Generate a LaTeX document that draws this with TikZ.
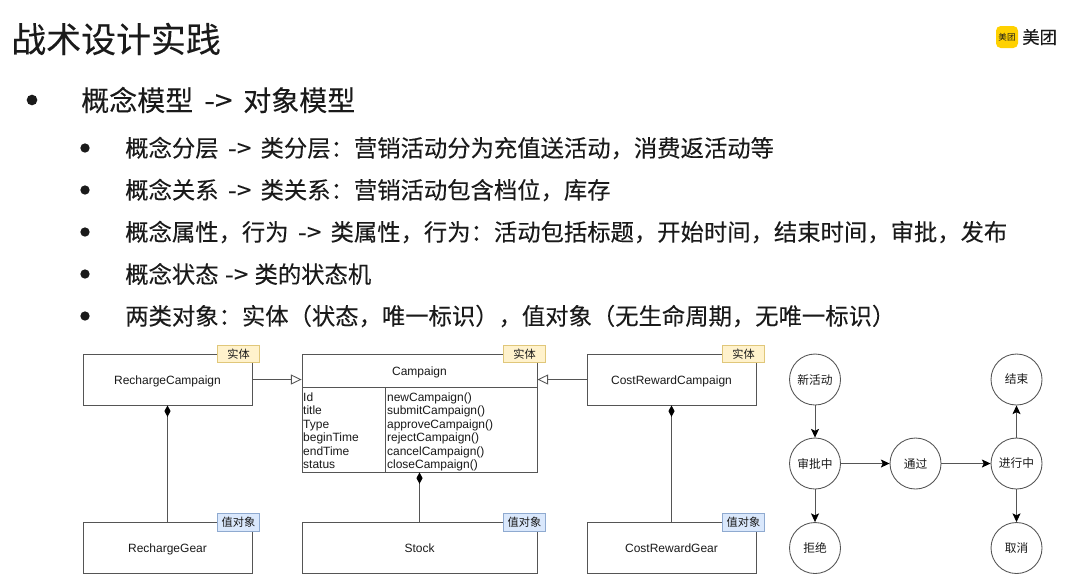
\documentclass[tikz,border=0pt]{standalone}
\usepackage{fontspec}
\setmainfont[FakeBold=0.12]{Noto Sans CJK SC}
\newfontfamily\plainzh{Noto Sans CJK SC}
\newfontfamily\lat{Liberation Sans}
\usetikzlibrary{arrows.meta}
\newcommand{\fsz}[1]{\fontsize{#1}{#1}\selectfont}
\newcommand{\arw}[1]{\makebox[#1][c]{\scalebox{1.12}[1]{->}}}
\definecolor{ink}{HTML}{1A1A1A}
\definecolor{wire}{HTML}{555555}
\tikzset{
  x=0.75pt,y=-0.75pt,
  umlbox/.style={draw=wire,line width=0.65pt,fill=white,minimum width=#1*0.75pt,minimum height=38.25pt,inner sep=0pt,font=\lat\fsz{9},text=ink,text height=9.2pt,text depth=2pt},
  attrbox/.style={inner sep=1pt,font=\lat\fontsize{9}{10.05}\selectfont,text=ink,align=left,anchor=north west},
  enttag/.style={draw=#1,line width=0.6pt,minimum width=32pt,minimum height=13pt,inner sep=0pt,font=\plainzh\fsz{8.4},text=ink},
  yellowtag/.style={enttag=tagyb,fill=tagy},
  bluetag/.style={enttag=tagbb,fill=tagb},
  statenode/.style={draw=wire,line width=0.65pt,circle,minimum size=38.25pt,inner sep=0pt,font=\plainzh\fsz{8.8},text=ink},
  flow/.style={draw=wire,line width=0.65pt,-{Stealth[length=6.5pt,width=6pt,inset=1.4pt,fill=black,color=black]}},
  inherit/.style={draw=wire,line width=0.65pt,-{Triangle[open,length=8pt,width=7.5pt,fill=white]}},
  compose/.style={draw=wire,line width=0.8pt,-{Diamond[length=8.5pt,width=4.6pt,fill=black,color=black]}},
  lvlone/.style={anchor=west,inner sep=0pt,font=\fsz{21},text=ink},
  lvltwo/.style={anchor=west,inner sep=0pt,font=\fsz{17.5},text=ink},
  dot/.style={circle,fill=ink,inner sep=0pt,minimum size=#1}
}
\definecolor{tagy}{HTML}{FFF2CC}
\definecolor{tagyb}{HTML}{E0C77A}
\definecolor{tagb}{HTML}{DAE8FC}
\definecolor{tagbb}{HTML}{8FAAD0}
\definecolor{mtyellow}{HTML}{FFD100}
\begin{document}
\begin{tikzpicture}
\useasboundingbox[fill=white] (0,0) rectangle (1080,587);
% title and logo
\node[anchor=west,inner sep=0pt,font=\fsz{26.2},text=ink] (title) at (11,39) {战术设计实践};
\node[fill=mtyellow,rounded corners=3.5pt,minimum size=16.5pt,inner sep=0pt,font=\plainzh\fsz{6.4},text=ink] (logoicon) at (1007,37) {美团};
\node[anchor=west,inner sep=0pt,font=\fsz{13},text=ink] (logotext) at (1022,37) {美团};
% bullets
\node[dot=8pt] (b0) at (32,100) {};
\node[lvlone] (t0) at (81,100) {概念模型\arw{37.5pt}对象模型};
\node[dot=7pt] (b1) at (85,148) {};
\node[lvltwo] (t1) at (125,148) {概念分层\arw{31.5pt}类分层：营销活动分为充值送活动，消费返活动等};
\node[dot=7pt] (b2) at (85,190) {};
\node[lvltwo] (t2) at (125,190) {概念关系\arw{31.5pt}类关系：营销活动包含档位，库存};
\node[dot=7pt] (b3) at (85,232) {};
\node[lvltwo] (t3) at (125,232) {概念属性，行为\arw{31.5pt}类属性，行为：活动包括标题，开始时间，结束时间，审批，发布};
\node[dot=7pt] (b4) at (85,274) {};
\node[lvltwo] (t4) at (125,274) {概念状态\arw{27pt}类的状态机};
\node[dot=7pt] (b5) at (85,316) {};
\node[lvltwo] (t5) at (125,316) {两类对象：实体（状态，唯一标识），值对象（无生命周期，无唯一标识）};
% class boxes
\node[umlbox=169] (rc) at (167.5,379.5) {RechargeCampaign};
\node[umlbox=169] (rg) at (167.5,547.5) {RechargeGear};
\node[umlbox=169] (cc) at (671.5,379.5) {CostRewardCampaign};
\node[umlbox=169] (cg) at (671.5,547.5) {CostRewardGear};
\node[umlbox=235] (st) at (419.5,547.5) {Stock};
\node[umlbox=235,minimum height=24.75pt] (camp) at (419.5,370.5) {Campaign};
\node[draw=wire,line width=0.65pt,minimum width=62.25pt,minimum height=63.75pt,inner sep=0pt] (attrs) at (343.5,429.5) {};
\node[draw=wire,line width=0.65pt,minimum width=114pt,minimum height=63.75pt,inner sep=0pt] (meths) at (461,429.5) {};
\node[attrbox,yshift=-3.5pt] (attrtext) at (attrs.north west) {Id\\title\\Type\\beginTime\\endTime\\status};
\node[attrbox,yshift=-3.5pt,xshift=0.7pt] (methtext) at (meths.north west) {newCampaign()\\submitCampaign()\\approveCampaign()\\rejectCampaign()\\cancelCampaign()\\closeCampaign()};
% class connectors
\draw[inherit] (rc.east) -- (rc.east -| camp.west);
\draw[inherit] (cc.west) -- (cc.west -| camp.east);
\draw[compose] (rg.north) -- (rc.south);
\draw[compose] (cg.north) -- (cc.south);
\draw[compose] (st.north) -- (st.north |- meths.south);
% tags
\node[yellowtag] (tag1) at (238.5,354) {实体};
\node[yellowtag] (tag2) at (524.5,354) {实体};
\node[yellowtag] (tag3) at (743.5,354) {实体};
\node[bluetag] (tag4) at (238.5,522.5) {值对象};
\node[bluetag] (tag5) at (524.5,522.5) {值对象};
\node[bluetag] (tag6) at (743.5,522.5) {值对象};
% state machine
\node[statenode] (s1) at (815,379.5) {新活动};
\node[statenode] (s2) at (815,463.5) {审批中};
\node[statenode] (s3) at (815,548) {拒绝};
\node[statenode] (s4) at (915.5,463.5) {通过};
\node[statenode] (s5) at (1016.5,463.5) {进行中};
\node[statenode] (s6) at (1016.5,379.5) {结束};
\node[statenode] (s7) at (1016.5,548) {取消};
\draw[flow] (s1) -- (s2);
\draw[flow] (s2) -- (s3);
\draw[flow] (s2) -- (s4);
\draw[flow] (s4) -- (s5);
\draw[flow] (s5) -- (s6);
\draw[flow] (s5) -- (s7);
\end{tikzpicture}
\end{document}
